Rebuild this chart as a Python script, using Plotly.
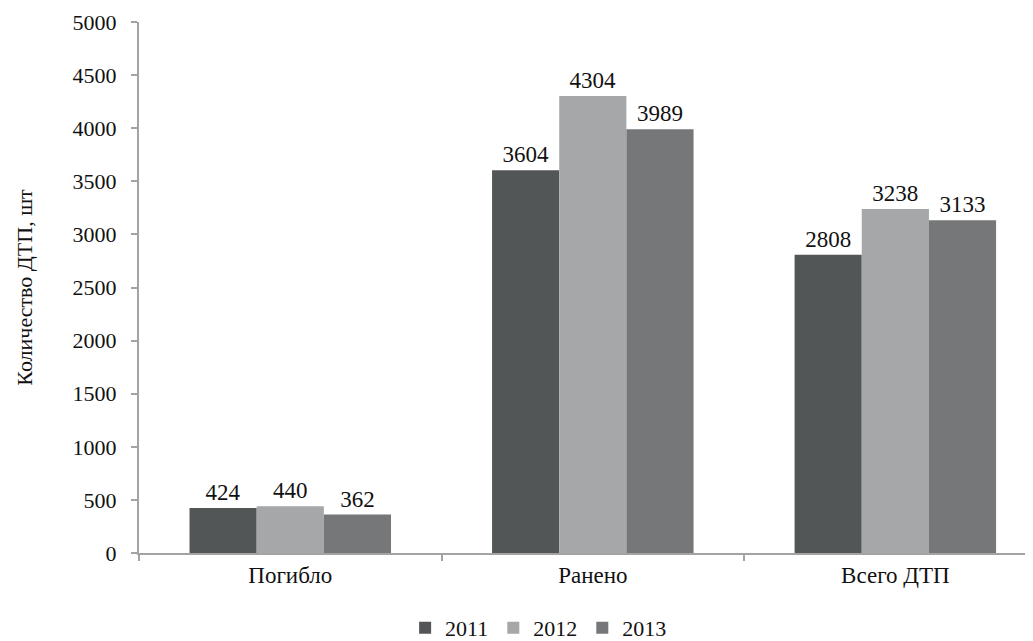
import plotly.graph_objects as go

categories = ["Погибло", "Ранено", "Всего ДТП"]
years = ["2011", "2012", "2013"]
values_2011 = [424, 3604, 2808]
values_2012 = [440, 4304, 3238]
values_2013 = [362, 3989, 3133]
series = [values_2011, values_2012, values_2013]
colors = ["#535657", "#a6a7a8", "#767778"]
y_ticks = [0, 500, 1000, 1500, 2000, 2500, 3000, 3500, 4000, 4500, 5000]

FONT = "Liberation Serif, Times New Roman, serif"

fig = go.Figure()
for name, vals, col in zip(years, series, colors):
    fig.add_trace(go.Bar(
        x=categories, y=vals, name=name,
        marker=dict(color=col, line=dict(width=0)),
        text=[str(v) for v in vals], textposition="outside",
        textfont=dict(family=FONT, size=23, color="#111111"),
        cliponaxis=False,
    ))

fig.update_layout(
    width=1025, height=633,
    paper_bgcolor="white", plot_bgcolor="white",
    barmode="group", bargap=0.334, bargroupgap=0,
    margin=dict(l=131, r=0, t=14, b=88, autoexpand=False),
    font=dict(family=FONT, size=22, color="#111111"),
    legend=dict(orientation="h", x=0.447, xanchor="center", y=-0.141, yanchor="middle",
                font=dict(family=FONT, size=22), itemwidth=30, traceorder="normal"),
    xaxis=dict(
        type="category", range=[-0.5, 2.455], automargin=False,
        showline=True, linecolor="#a3a3a3", linewidth=2,
        ticks="outside", tickson="boundaries", ticklen=6, tickcolor="#a3a3a3", tickwidth=2,
        showgrid=False, tickfont=dict(family=FONT, size=23),
    ),
    yaxis=dict(
        range=[0, 5000], tickvals=y_ticks, automargin=False,
        showline=True, linecolor="#a3a3a3", linewidth=2,
        ticks="outside", ticklen=6, tickcolor="#a3a3a3", tickwidth=2,
        showgrid=False, zeroline=False, ticklabelstandoff=10,
        tickfont=dict(family=FONT, size=22),
        title=dict(text="Количество ДТП, шт", font=dict(family=FONT, size=22), standoff=34),
    ),
)

fig.write_html("out.html")
